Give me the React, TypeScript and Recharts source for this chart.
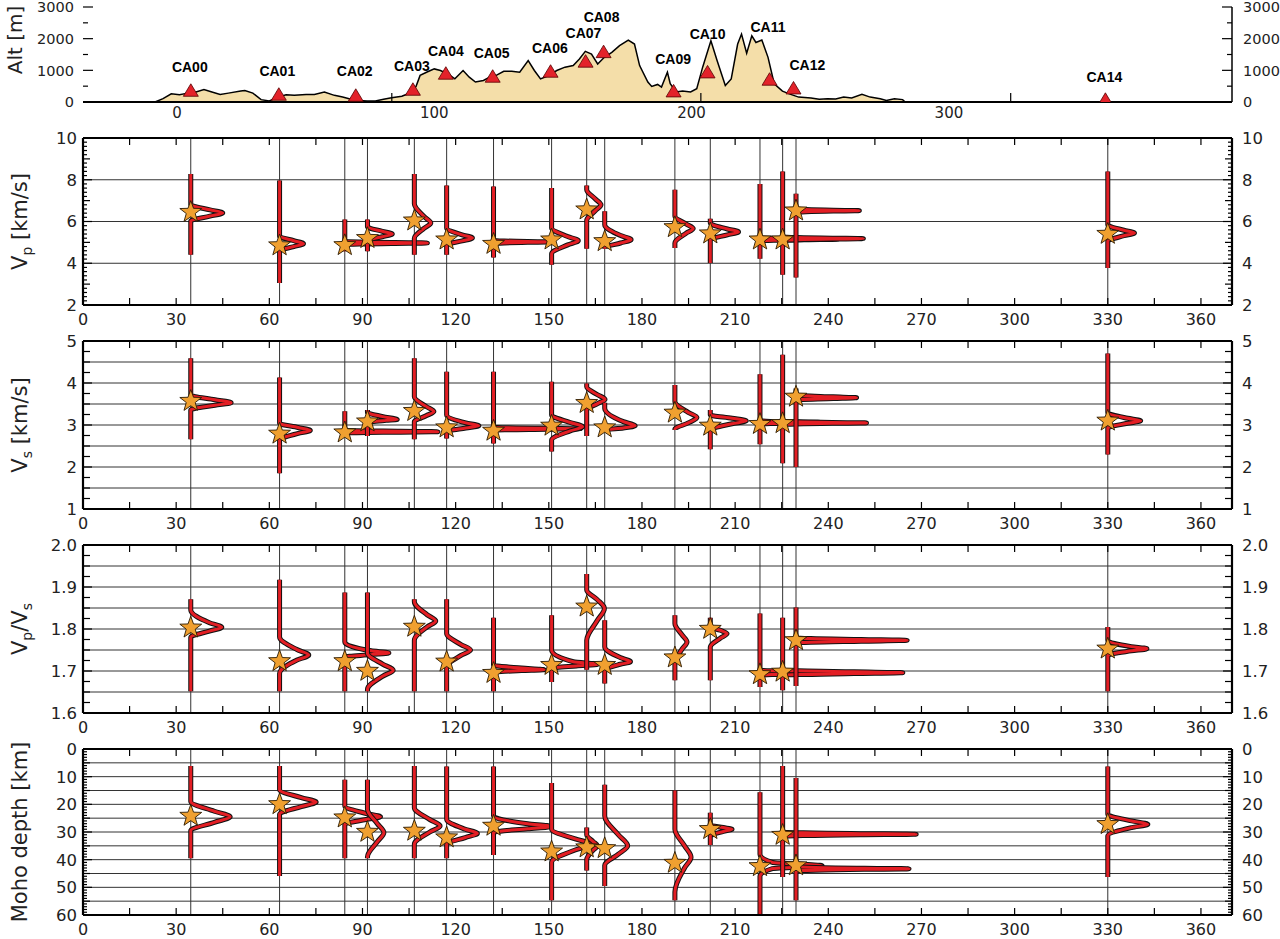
import React from 'react';
import { Area, ComposedChart, Line, ReferenceLine, Scatter, XAxis, YAxis } from 'recharts';

// ---------- top panel: topography along the profile ----------
const PROFILE_KM = [-8.5, -5.4, -2.2, 1, 4.2, 7.4, 10.5, 13.6, 16.8, 20, 24.8, 26.4, 29.5, 32.7, 35.9, 39.2, 42.4, 45.6, 50.2, 53.4, 57.3, 61.2, 64.4, 67.6, 70.8, 73.9, 77.1, 80.3, 83.4, 87.4, 89.8, 92.9, 94.5, 97, 100, 102.4, 105.6, 108, 111.2, 113.6, 116, 119.1, 121.5, 123.9, 127, 130.1, 133.2, 136.5, 138.9, 141.3, 144.5, 147.6, 150.8, 154, 156.4, 158.7, 161.1, 163.5, 165.8, 169, 172, 175.4, 177.8, 179.8, 183, 184.5, 186.8, 188.3, 190.6, 191.7, 194, 196.5, 199.6, 202, 204.3, 207.5, 209.9, 213.1, 215.4, 217.9, 219.4, 221.4, 223.4, 225, 227.3, 229.7, 232.1, 235.3, 238.5, 241.6, 246.4, 249.6, 252.8, 256, 259.1, 262.2, 266.2, 269.4, 273.3, 275.7, 278.8, 282, 283];
const PROFILE_ALT = [0, 105, 260, 230, 280, 315, 390, 315, 240, 280, 345, 365, 280, 75, 30, 155, 230, 210, 240, 240, 315, 210, 155, 85, 50, 30, 30, 85, 135, 180, 260, 490, 840, 940, 1045, 995, 870, 730, 995, 785, 630, 680, 785, 835, 970, 970, 940, 1310, 995, 730, 835, 995, 1100, 1150, 1360, 1600, 1515, 1200, 1390, 1570, 1780, 1955, 1830, 1150, 630, 490, 555, 470, 940, 575, 315, 345, 315, 420, 1100, 1935, 1310, 520, 730, 1830, 2145, 1540, 2090, 1880, 1955, 1410, 575, 345, 240, 155, 125, 85, 105, 95, 155, 125, 240, 155, 105, 50, 105, 75, 0];

const STATION_NAMES = ['CA00', 'CA01', 'CA02', 'CA03', 'CA04', 'CA05', 'CA06', 'CA07', 'CA08', 'CA09', 'CA10', 'CA11', 'CA12', 'CA14'];
const STATION_PROFILE_KM = [5.4, 39.6, 69.5, 91.7, 104.5, 122.7, 145.2, 158.8, 165.8, 193, 206.2, 230.3, 239.6, 360.8];
const STATION_ALT = [370, 245, 212, 402, 909, 814, 972, 1289, 1590, 350, 950, 719, 443, 85];
const LABEL_KM = [5.0, 39.0, 69.1, 91.3, 104.5, 122.3, 144.9, 158.0, 165.0, 192.8, 206.2, 229.7, 245.0, 360.4];
const LABEL_ALT = [1109, 972, 972, 1131, 1616, 1533, 1692, 2167, 2693, 1343, 2135, 2357, 1163, 792];

const TOP_X_LABELS = [0, 100, 200, 300];
const TOP_X_MARKS = [83.5, 203.6, 324];
const ALT_LABELS = [0, 1000, 2000, 3000];

// ---------- lower panels: posterior distributions per station ----------
const STATION_KM = [34.7, 63.3, 84.3, 91.6, 106.7, 117.1, 132.2, 150.9, 162.2, 168.0, 190.6, 202.0, 218.0, 225.3, 229.6, 330.0];
const DIST_LABELS = [0, 30, 60, 90, 120, 150, 180, 210, 240, 270, 300, 330, 360];

type Pt = [number, number]; // [value, horizontal offset in km]

const VP_BEST = [6.45, 4.85, 4.86, 5.2, 6.04, 5.13, 4.92, 5.13, 6.57, 5.05, 5.72, 5.42, 5.13, 5.13, 6.52, 5.4];
const VP_LO = [4.41, 3.05, 4.57, 4.57, 4.41, 4.41, 4.28, 3.93, 4.7, 4.7, 4.73, 4.01, 4.22, 3.45, 3.32, 3.77];
const VP_HI = [8.27, 7.96, 6.09, 6.09, 8.27, 7.72, 7.68, 7.6, 7.72, 6.49, 7.52, 6.13, 7.8, 8.4, 7.33, 8.4];
const VP_PDF: Pt[][] = [
  [[6.02, 0], [6.26, 6.2], [6.41, 10.3], [6.56, 6.2], [6.8, 0]],
  [[4.6, 0], [4.8, 4.6], [4.94, 7.7], [5.08, 4.6], [5.29, 0]],
  [[4.9, 0], [4.95, 16], [4.97, 26.6], [4.99, 16], [5.04, 0]],
  [[5.1, 0], [5.27, 4.8], [5.4, 8.0], [5.53, 4.8], [5.75, 0]],
  [[5.2, 0], [5.68, 3.2], [5.93, 5.3], [6.23, 3.2], [6.85, 0]],
  [[4.89, 0], [5.07, 5], [5.21, 8.3], [5.36, 5], [5.69, 0]],
  [[4.95, 0], [5.0, 11], [5.02, 18.5], [5.04, 11], [5.09, 0]],
  [[4.45, 0], [4.88, 5.2], [5.08, 8.6], [5.28, 5.2], [5.69, 0]],
  [[6.05, 0], [6.52, 2.8], [6.8, 4.6], [7.08, 2.8], [7.52, 0]],
  [[4.75, 0], [4.97, 5.1], [5.13, 8.5], [5.33, 5.1], [5.85, 0]],
  [[4.97, 0], [5.44, 3.6], [5.66, 5.9], [5.88, 3.6], [6.25, 0]],
  [[5.13, 0], [5.36, 5.5], [5.5, 9.1], [5.64, 5.5], [5.93, 0]],
  [[5.08, 0], [5.13, 15], [5.15, 25], [5.17, 15], [5.22, 0]],
  [[5.1, 0], [5.16, 16], [5.18, 26], [5.2, 16], [5.26, 0]],
  [[6.44, 0], [6.5, 12], [6.52, 20.4], [6.54, 12], [6.6, 0]],
  [[5.05, 0], [5.32, 5.2], [5.45, 8.6], [5.58, 5.2], [5.85, 0]],
];

const VS_BEST = [3.57, 2.79, 2.82, 3.08, 3.33, 2.94, 2.86, 2.98, 3.52, 2.94, 3.29, 2.98, 3.02, 3.04, 3.67, 3.1];
const VS_LO = [2.66, 1.85, 2.79, 2.74, 2.66, 2.68, 2.56, 2.37, 2.74, 2.86, 2.88, 2.42, 2.54, 2.09, 2.0, 2.3];
const VS_HI = [4.59, 4.13, 3.33, 3.36, 4.59, 4.27, 4.27, 4.03, 3.99, 3.53, 3.95, 3.36, 4.21, 4.67, 3.87, 4.7];
const VS_PDF: Pt[][] = [
  [[3.36, 0], [3.47, 7.8], [3.53, 13], [3.6, 7.8], [3.71, 0]],
  [[2.64, 0], [2.8, 6], [2.87, 9.9], [2.94, 6], [3.04, 0]],
  [[2.81, 0], [2.83, 18], [2.84, 30], [2.85, 18], [2.87, 0]],
  [[3.06, 0], [3.11, 6], [3.13, 9.6], [3.2, 5], [3.3, 0]],
  [[3.08, 0], [3.22, 3.8], [3.32, 6.3], [3.44, 3.8], [3.67, 0]],
  [[2.84, 0], [2.93, 6.2], [2.98, 10.4], [3.05, 6.2], [3.24, 0]],
  [[2.88, 0], [2.9, 17], [2.91, 28], [2.92, 17], [2.95, 0]],
  [[2.64, 0], [2.86, 6], [2.96, 10], [3.06, 6], [3.24, 0]],
  [[3.36, 0], [3.51, 3.5], [3.61, 5.9], [3.72, 3.5], [3.91, 0]],
  [[2.88, 0], [2.93, 6], [2.98, 9.8], [3.08, 6], [3.4, 0]],
  [[2.9, 0], [3.05, 4.3], [3.18, 7.1], [3.3, 4.3], [3.56, 0]],
  [[2.88, 0], [3.03, 7], [3.1, 11.6], [3.16, 7], [3.24, 0]],
  [[3.02, 0], [3.05, 12], [3.06, 20], [3.07, 12], [3.1, 0]],
  [[3.01, 0], [3.04, 16], [3.05, 27], [3.06, 16], [3.09, 0]],
  [[3.6, 0], [3.63, 12], [3.65, 19.5], [3.67, 12], [3.71, 0]],
  [[2.93, 0], [3.04, 6.4], [3.1, 10.6], [3.16, 6.4], [3.3, 0]],
];

const VPVS_BEST = [1.803, 1.723, 1.723, 1.7, 1.805, 1.722, 1.695, 1.714, 1.853, 1.714, 1.732, 1.8, 1.692, 1.698, 1.773, 1.753];
const VPVS_LO = [1.652, 1.652, 1.652, 1.652, 1.652, 1.652, 1.652, 1.674, 1.703, 1.67, 1.678, 1.678, 1.662, 1.654, 1.664, 1.652];
const VPVS_HI = [1.871, 1.917, 1.887, 1.887, 1.871, 1.871, 1.827, 1.833, 1.931, 1.821, 1.833, 1.827, 1.837, 1.827, 1.851, 1.805];
const VPVS_PDF: Pt[][] = [
  [[1.78, 0], [1.795, 6], [1.804, 10], [1.815, 6], [1.845, 0]],
  [[1.694, 0], [1.726, 5.6], [1.738, 9.4], [1.751, 5.6], [1.781, 0]],
  [[1.733, 0], [1.739, 8.5], [1.743, 14.2], [1.748, 8.5], [1.769, 0]],
  [[1.656, 0], [1.688, 5], [1.702, 8.3], [1.716, 5], [1.742, 0]],
  [[1.773, 0], [1.805, 4.1], [1.819, 6.9], [1.834, 4.1], [1.865, 0]],
  [[1.71, 0], [1.737, 4.6], [1.75, 7.7], [1.763, 4.6], [1.789, 0]],
  [[1.697, 0], [1.701, 9], [1.703, 16.3], [1.707, 9], [1.714, 0]],
  [[1.706, 0], [1.712, 8], [1.716, 15], [1.722, 7], [1.75, 0]],
  [[1.773, 0], [1.82, 3.4], [1.849, 5.7], [1.87, 3.4], [1.893, 0]],
  [[1.702, 0], [1.716, 5], [1.722, 8.3], [1.732, 5], [1.757, 0]],
  [[1.718, 0], [1.752, 2.3], [1.769, 3.9], [1.786, 2.3], [1.813, 0]],
  [[1.757, 0], [1.778, 3.2], [1.789, 5.4], [1.797, 3.2], [1.805, 0]],
  [[1.69, 0], [1.694, 18], [1.696, 30], [1.698, 18], [1.702, 0]],
  [[1.69, 0], [1.694, 23], [1.696, 38.7], [1.698, 23], [1.702, 0]],
  [[1.767, 0], [1.771, 21], [1.773, 35.8], [1.775, 21], [1.779, 0]],
  [[1.737, 0], [1.748, 7.6], [1.753, 12.6], [1.758, 7.6], [1.773, 0]],
];

const MOHO_BEST = [24.2, 20, 24.8, 30, 29.6, 32, 27.8, 37.1, 35.6, 35.9, 41.2, 29, 42.4, 31.1, 42.1, 27.2];
const MOHO_LO = [6.1, 6.1, 11.1, 11.1, 6.1, 6.3, 6.3, 12.3, 28.4, 12.9, 15, 23, 15.6, 6.1, 10.5, 6.3];
const MOHO_HI = [39.5, 45.9, 39.5, 39.5, 39.5, 39.5, 38.3, 54.7, 43.9, 49.5, 54.7, 34.7, 60, 46.3, 54.7, 46.3];
const MOHO_PDF: Pt[][] = [
  [[19, 0], [22.5, 7.6], [24.5, 12.7], [26.5, 7.6], [29.5, 0]],
  [[14.7, 0], [17.6, 7], [19.2, 11.8], [20.8, 7], [23.6, 0]],
  [[20.6, 0], [23.3, 6.9], [24.5, 11.5], [25.5, 6.9], [27.2, 0]],
  [[21.8, 0], [27, 3.2], [30.2, 5.3], [33.5, 3.2], [39, 0]],
  [[21.2, 0], [25.5, 5], [27.8, 8.3], [30, 5], [34.4, 0]],
  [[25.4, 0], [29, 6], [30.5, 9.9], [32, 6], [34.4, 0]],
  [[24.2, 0], [27, 11], [28, 18.5], [28.8, 11], [30.2, 0]],
  [[29, 0], [32.5, 7.6], [34.4, 12.7], [36.5, 7.6], [40.9, 0]],
  [[31, 0], [33.5, 2.1], [35, 3.5], [36.5, 2.1], [40, 0]],
  [[24.2, 0], [31, 4.4], [35, 7.4], [38, 4.4], [42, 0]],
  [[29, 0], [35, 3.1], [39.1, 5.2], [43, 3.1], [51.7, 0]],
  [[27.5, 0], [28.4, 4.2], [29, 7], [29.8, 4.2], [31.5, 0]],
  [[38, 0], [41, 4], [42.2, 20], [43.2, 4], [46, 0]],
  [[30, 0], [30.6, 25], [30.8, 43], [31, 25], [31.6, 0]],
  [[42.5, 0], [43.1, 22], [43.3, 36.4], [43.5, 22], [44.1, 0]],
  [[23.6, 0], [26, 7.7], [27.2, 12.9], [28.4, 7.7], [31.4, 0]],
];

// ---------- layout ----------
const PLOT_L = 83;
const PLOT_R = 1232;
const FONT = '"DejaVu Sans", sans-serif';
const RED = '#e31e24';
const STAR = '#f0a030';

const steps = (a: number, b: number, s: number) => {
  const out: number[] = [];
  for (let k = 0; a + k * s <= b + 1e-9; k++) out.push(+(a + k * s).toFixed(4));
  return out;
};
const near = (list: number[], v: number) => list.some((l) => Math.abs(l - v) < 1e-6);

const StarShape = (p: any) => {
  const pts: string[] = [];
  for (let i = 0; i < 10; i++) {
    const r = i % 2 === 0 ? 11.5 : 4.7;
    const a = -Math.PI / 2 + (i * Math.PI) / 5;
    pts.push(`${p.cx + r * Math.cos(a)},${p.cy + r * Math.sin(a)}`);
  }
  return <polygon points={pts.join(' ')} fill={STAR} stroke="#2b1a00" strokeWidth={0.9} />;
};

const Triangle = (p: any) => (
  <path
    d={`M${p.cx - 7.5},${p.cy + 6} L${p.cx + 7.5},${p.cy + 6} L${p.cx},${p.cy - 6.5} Z`}
    fill="#e3222a"
    stroke="#500"
    strokeWidth={0.8}
  />
);

const StationLabel = (p: any) => (
  <text x={p.cx} y={p.cy} dy="0.35em" textAnchor="middle" fontFamily='"Liberation Sans", Arial, sans-serif' fontWeight="bold" fontSize={14} fill="#000">
    {p.payload.name}
  </text>
);

interface PanelProps {
  top: number;
  height: number;
  domain: [number, number];
  reversed?: boolean;
  tickStep: number;
  labels: number[];
  grid: number[];
  midTicks?: number[];
  fmt: (v: number) => string;
  best: number[];
  lo: number[];
  hi: number[];
  pdf: Pt[][];
  title: React.ReactNode;
}

const MT = 10;
const LABEL_GAP = 8.5;

const Panel = ({ top, height, domain, reversed, tickStep, labels, grid, midTicks, fmt, best, lo, hi, pdf, title }: PanelProps) => {
  const plotTop = MT;
  const plotBottom = MT + height;
  const xTicks = steps(0, 360, 15);
  const yTicks = steps(domain[0], domain[1], tickStep);

  const YTick = (p: any) => {
    const v = p.payload.value;
    const isLabel = near(labels, v);
    const len = isLabel ? 9 : midTicks && near(midTicks, v) ? 7 : midTicks ? 4 : 7;
    return (
      <g>
        <line x1={PLOT_L} x2={PLOT_L + len} y1={p.y} y2={p.y} stroke="#000" strokeWidth={1.2} />
        <line x1={PLOT_R} x2={PLOT_R - len} y1={p.y} y2={p.y} stroke="#000" strokeWidth={1.2} />
        {isLabel && (
          <>
            <text x={PLOT_L - 6} y={p.y} dy="0.36em" textAnchor="end" fontFamily={FONT} fontSize={16.5} fill="#222">
              {fmt(v)}
            </text>
            <text x={PLOT_R + 10} y={p.y} dy="0.36em" textAnchor="start" fontFamily={FONT} fontSize={16.5} fill="#222">
              {fmt(v)}
            </text>
          </>
        )}
      </g>
    );
  };

  const XTick = (p: any) => {
    const v = p.payload.value;
    return (
      <g>
        <line x1={p.x} x2={p.x} y1={plotBottom} y2={plotBottom - 7} stroke="#000" strokeWidth={1.2} />
        <line x1={p.x} x2={p.x} y1={plotTop} y2={plotTop + 7} stroke="#000" strokeWidth={1.2} />
        {near(DIST_LABELS, v) && (
          <text x={p.x} y={plotBottom + LABEL_GAP} dy="0.71em" textAnchor="middle" fontFamily={FONT} fontSize={16} fill="#222">
            {v}
          </text>
        )}
      </g>
    );
  };

  const curves = STATION_KM.map((km, i) => {
    const pts: Pt[] = [[lo[i], 0], ...pdf[i], [hi[i], 0]];
    pts.sort((a, b) => a[0] - b[0]);
    return pts.map(([v, dx]) => ({ x: km + dx, y: v }));
  });
  const stars = STATION_KM.map((km, i) => ({ x: km, y: best[i] }));

  return (
    <div style={{ position: 'absolute', left: 0, top: top - MT }}>
      <ComposedChart width={1280} height={MT + height + 28} margin={{ top: MT, right: 1280 - PLOT_R, bottom: 0, left: 0 }}>
        <XAxis
          type="number"
          dataKey="x"
          domain={[0, 370]}
          ticks={xTicks}
          interval={0}
          tick={XTick}
          tickLine={false}
          axisLine={false}
          height={28}
          allowDataOverflow
        />
        <YAxis
          type="number"
          dataKey="y"
          domain={domain}
          reversed={reversed}
          ticks={yTicks}
          interval={0}
          tick={YTick}
          tickLine={false}
          axisLine={false}
          width={PLOT_L}
          allowDataOverflow
          label={{
            content: () => (
              <text
                x={27}
                y={MT + height / 2}
                transform={`rotate(-90, 27, ${MT + height / 2})`}
                textAnchor="middle"
                fontFamily={FONT}
                fontSize={21}
                fill="#222"
              >
                {title}
              </text>
            ),
          }}
        />
        {grid.map((g) => (
          <Line
            key={`g${g}`}
            data={[{ x: 0, y: g }, { x: 370, y: g }]}
            dataKey="y"
            stroke="#333"
            strokeWidth={1}
            dot={false}
            activeDot={false}
            isAnimationActive={false}
          />
        ))}
        {STATION_KM.map((km) => (
          <Line
            key={`s${km}`}
            data={[{ x: km, y: domain[0] }, { x: km, y: domain[1] }]}
            dataKey="y"
            stroke="#333"
            strokeWidth={1}
            dot={false}
            activeDot={false}
            isAnimationActive={false}
          />
        ))}
        {curves.map((c, i) => [
          <Line
            key={`o${i}`}
            data={c}
            dataKey="y"
            type="monotoneY"
            stroke="#111"
            strokeWidth={5}
            strokeLinejoin="round"
            dot={false}
            activeDot={false}
            isAnimationActive={false}
          />,
          <Line
            key={`r${i}`}
            data={c}
            dataKey="y"
            type="monotoneY"
            stroke={RED}
            strokeWidth={3}
            strokeLinejoin="round"
            dot={false}
            activeDot={false}
            isAnimationActive={false}
          />,
        ])}
        <ReferenceLine x={0} stroke="#000" strokeWidth={2.2} />
        <ReferenceLine x={370} stroke="#000" strokeWidth={2.2} />
        <ReferenceLine y={domain[0]} stroke="#000" strokeWidth={2.2} />
        <ReferenceLine y={domain[1]} stroke="#000" strokeWidth={2.2} />
        <Scatter data={stars} shape={StarShape} isAnimationActive={false} />
      </ComposedChart>
    </div>
  );
};

const TopPanel = () => {
  const plotTop = 7;
  const height = 95;
  const plotBottom = plotTop + height;
  const profile = PROFILE_KM.map((x, i) => ({ x, y: PROFILE_ALT[i] }));
  const stations = STATION_PROFILE_KM.map((x, i) => ({ x, y: STATION_ALT[i] }));
  const labels = LABEL_KM.map((x, i) => ({ x, y: LABEL_ALT[i], name: STATION_NAMES[i] }));

  const YTick = (p: any) => {
    const v = p.payload.value;
    const isLabel = near(ALT_LABELS, v);
    const len = isLabel ? 10 : 5;
    return (
      <g>
        <line x1={PLOT_L} x2={PLOT_L + len} y1={p.y} y2={p.y} stroke="#000" strokeWidth={1.2} />
        <line x1={PLOT_R} x2={PLOT_R - len} y1={p.y} y2={p.y} stroke="#000" strokeWidth={1.2} />
        {isLabel && (
          <>
            <text x={PLOT_L - 9} y={p.y} dy="0.36em" textAnchor="end" fontFamily={FONT} fontSize={14.5} fill="#222">
              {v}
            </text>
            <text x={PLOT_R + 11} y={p.y} dy="0.36em" textAnchor="start" fontFamily={FONT} fontSize={14.5} fill="#222">
              {v}
            </text>
          </>
        )}
      </g>
    );
  };

  const XTick = (p: any) => {
    const v = p.payload.value;
    if (near(TOP_X_MARKS, v)) {
      return <line x1={p.x} x2={p.x} y1={plotBottom} y2={plotBottom - 9} stroke="#000" strokeWidth={1.2} />;
    }
    return (
      <text x={p.x} y={plotBottom + 5} dy="0.71em" textAnchor="middle" fontFamily={FONT} fontSize={15} fill="#222">
        {v}
      </text>
    );
  };

  return (
    <div style={{ position: 'absolute', left: 0, top: 0 }}>
      <ComposedChart width={1280} height={plotBottom + 23} margin={{ top: plotTop, right: 1280 - PLOT_R, bottom: 0, left: 0 }}>
        <XAxis
          type="number"
          dataKey="x"
          domain={[-36.5, 410]}
          ticks={[...TOP_X_LABELS, ...TOP_X_MARKS]}
          interval={0}
          tick={XTick}
          tickLine={false}
          axisLine={false}
          height={23}
          allowDataOverflow
        />
        <YAxis
          type="number"
          dataKey="y"
          domain={[0, 3000]}
          ticks={steps(0, 3000, 500)}
          interval={0}
          tick={YTick}
          tickLine={false}
          axisLine={false}
          width={PLOT_L}
          allowDataOverflow
          label={{
            content: () => (
              <text x={22} y={40} transform="rotate(-90, 22, 40)" textAnchor="middle" fontFamily={FONT} fontSize={20} fill="#222">
                Alt [m]
              </text>
            ),
          }}
        />
        <Area
          data={profile}
          dataKey="y"
          type="linear"
          fill="#f4dea9"
          fillOpacity={1}
          stroke="#000"
          strokeWidth={1.5}
          baseValue={0}
          dot={false}
          activeDot={false}
          isAnimationActive={false}
        />
        <ReferenceLine y={0} stroke="#000" strokeWidth={2.2} />
        <ReferenceLine x={410} stroke="#000" strokeWidth={1.5} />
        <Scatter data={stations} shape={Triangle} isAnimationActive={false} />
        <Scatter data={labels} shape={StationLabel} isAnimationActive={false} />
      </ComposedChart>
    </div>
  );
};

const sub = (s: string) => (
  <tspan dy={5} fontSize={14}>
    {s}
  </tspan>
);

export default function App() {
  return (
    <div style={{ position: 'absolute', left: 0, top: 0, width: 1280, height: 939, overflow: 'hidden', background: '#fff' }}>
      <TopPanel />
      <Panel
        top={138}
        height={167}
        domain={[2, 10]}
        tickStep={0.2}
        labels={[2, 4, 6, 8, 10]}
        midTicks={[3, 5, 7, 9]}
        grid={[4, 6, 8]}
        fmt={(v) => String(v)}
        best={VP_BEST}
        lo={VP_LO}
        hi={VP_HI}
        pdf={VP_PDF}
        title={
          <>
            V{sub('p')}
            <tspan dy={-5}> [km/s]</tspan>
          </>
        }
      />
      <Panel
        top={341}
        height={168}
        domain={[1, 5]}
        tickStep={0.25}
        labels={[1, 2, 3, 4, 5]}
        grid={[1.5, 2, 2.5, 3, 3.5, 4, 4.5]}
        fmt={(v) => String(v)}
        best={VS_BEST}
        lo={VS_LO}
        hi={VS_HI}
        pdf={VS_PDF}
        title={
          <>
            V{sub('s')}
            <tspan dy={-5}> [km/s]</tspan>
          </>
        }
      />
      <Panel
        top={545}
        height={168}
        domain={[1.6, 2.0]}
        tickStep={0.025}
        labels={[1.6, 1.7, 1.8, 1.9, 2.0]}
        grid={[1.65, 1.7, 1.75, 1.8, 1.85, 1.9, 1.95]}
        fmt={(v) => v.toFixed(1)}
        best={VPVS_BEST}
        lo={VPVS_LO}
        hi={VPVS_HI}
        pdf={VPVS_PDF}
        title={
          <>
            V{sub('p')}
            <tspan dy={-5}>/V</tspan>
            {sub('s')}
          </>
        }
      />
      <Panel
        top={749}
        height={166}
        domain={[0, 60]}
        reversed
        tickStep={1}
        labels={[0, 10, 20, 30, 40, 50, 60]}
        midTicks={[5, 15, 25, 35, 45, 55]}
        grid={[5, 10, 15, 20, 25, 30, 35, 40, 45, 50, 55]}
        fmt={(v) => String(v)}
        best={MOHO_BEST}
        lo={MOHO_LO}
        hi={MOHO_HI}
        pdf={MOHO_PDF}
        title="Moho depth [km]"
      />
    </div>
  );
}
